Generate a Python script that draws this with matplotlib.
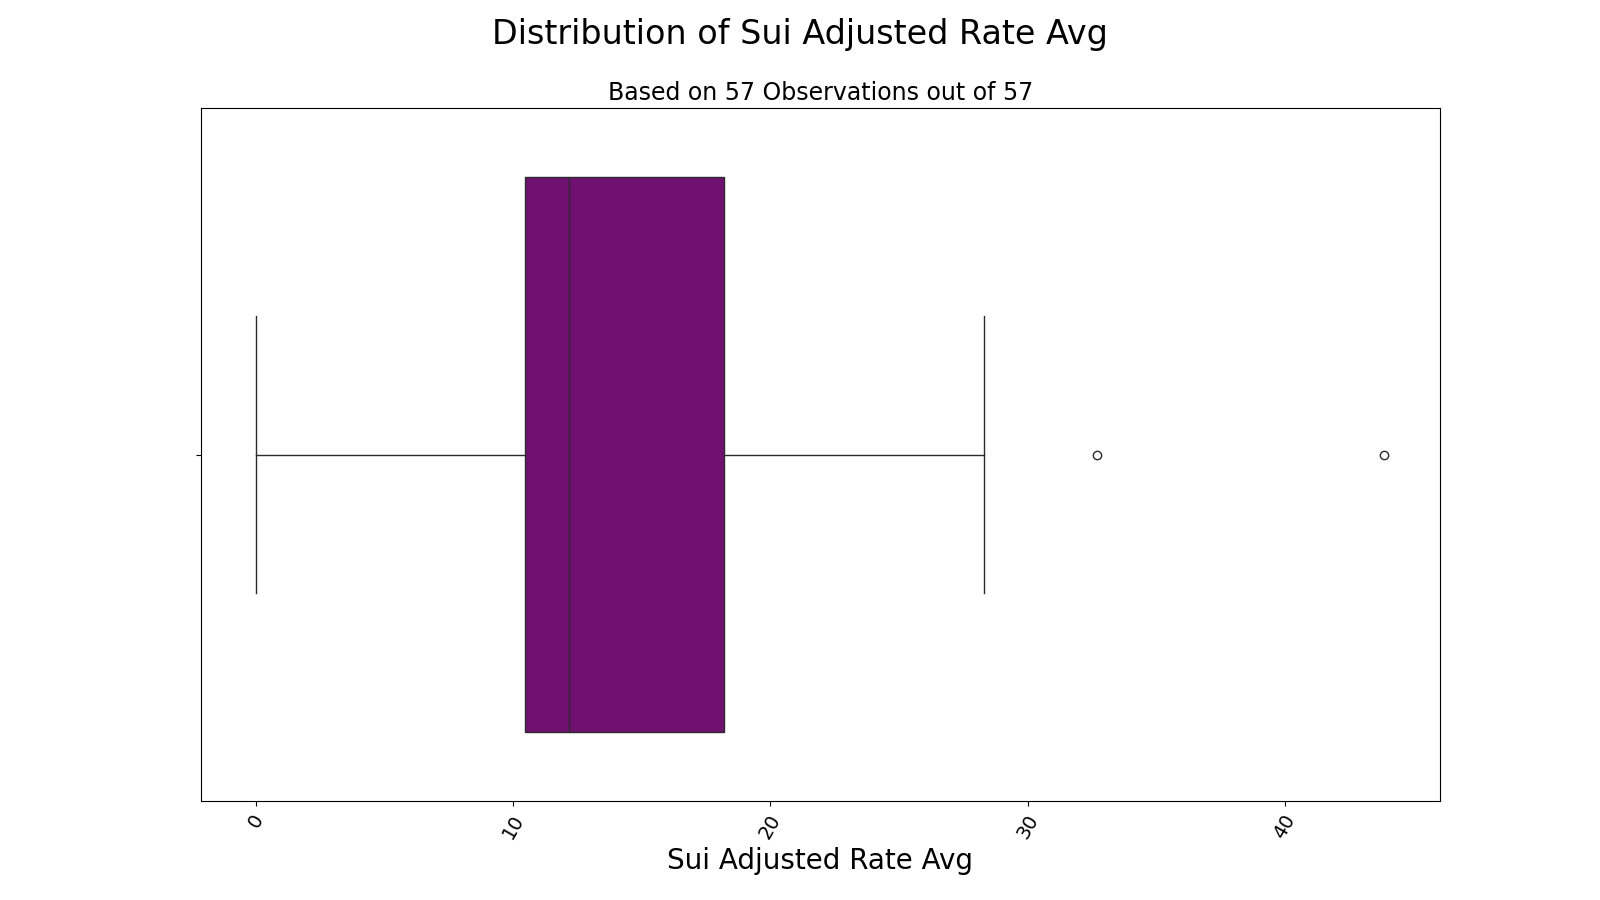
import matplotlib
matplotlib.use("Agg")
import matplotlib.pyplot as plt

# summary statistics
label = "Sui Adjusted Rate Avg"
whislo = 0.0
q1 = 10.44
med = 12.18
q3 = 18.21
whishi = 28.29
fliers = [32.7, 43.85]
n_obs = 57
n_total = 57

stats = [dict(whislo=whislo, q1=q1, med=med, q3=q3, whishi=whishi, fliers=fliers)]

fig, ax = plt.subplots(figsize=(16, 9), dpi=100)
fig.subplots_adjust(left=0.1256, right=0.900, top=0.880, bottom=0.110)

ax.bxp(
    stats, positions=[0], widths=0.8, vert=False, patch_artist=True,
    boxprops=dict(facecolor="#701070", edgecolor="#2b2b2b", linewidth=1),
    medianprops=dict(color="#2b2b2b", linewidth=1),
    whiskerprops=dict(color="#2b2b2b", linewidth=1),
    capprops=dict(color="#2b2b2b", linewidth=1),
    flierprops=dict(marker="o", markerfacecolor="none", markeredgecolor="#2b2b2b", markersize=6),
    capwidths=0.4,
)
ax.set_ylim(0.5, -0.5)
ax.set_xlim(-2.14, 46.03)
ax.set_yticks([0])
ax.set_yticklabels([""])
ax.set_xticks([0, 10, 20, 30, 40])
ax.tick_params(axis="x", labelsize=14, labelrotation=60)
ax.set_xlabel(label, fontsize=20)
ax.set_title(f"Based on {n_obs} Observations out of {n_total}", fontsize=17)
fig.suptitle(f"Distribution of {label}", fontsize=24, y=0.98)

fig.savefig("out.png")
